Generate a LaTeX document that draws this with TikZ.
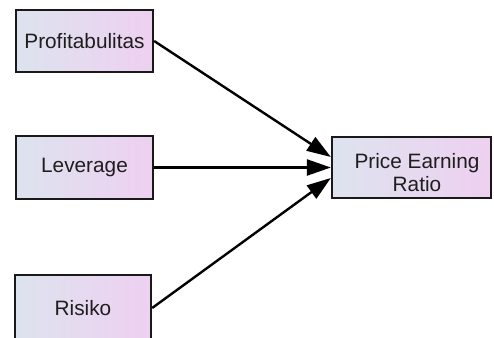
\documentclass[tikz,border=0pt]{standalone}
\usepackage{fontspec}
\setmainfont{Liberation Sans}
\usetikzlibrary{arrows.meta}
\definecolor{gl}{HTML}{DDE3EE}
\definecolor{gr}{HTML}{EED0F1}
\definecolor{txt}{HTML}{1E1E1E}
\begin{document}
\begin{tikzpicture}[x=1pt,y=-1pt,
  box/.style={draw=black!90,line width=2.3pt,left color=gl,right color=gr,
    inner sep=0pt,text=txt,font=\fontsize{20.8}{23}\selectfont,align=center},
  arr/.style={line width=2.4pt,-{Triangle[length=24pt,width=16pt]}}]
\useasboundingbox (0,0) rectangle (494,337);
\clip (0,0) rectangle (494,337);
\node[box,minimum width=137pt,minimum height=62pt] (prof) at (84.5,41) {Profitabulitas};
\node[box,minimum width=137pt,minimum height=63pt] (lev) at (84.5,167.5) {Leverage};
\node[box,minimum width=136pt,minimum height=66pt] (ris) at (83,308) {Risiko};
\node[box,minimum width=159pt,minimum height=61pt] (per) at (411.5,167.5) {};
\node[text=txt,font=\fontsize{20.8}{23}\selectfont,align=center,inner sep=0pt] (pertext) at (417,173) {Price Earning\\Ratio};
\draw[arr] (prof.east) -- ([yshift=10.5pt]per.west);
\draw[arr] (lev.east) -- (per.west);
\draw[arr] (ris.east) -- ([yshift=-10.5pt]per.west);
\end{tikzpicture}
\end{document}
